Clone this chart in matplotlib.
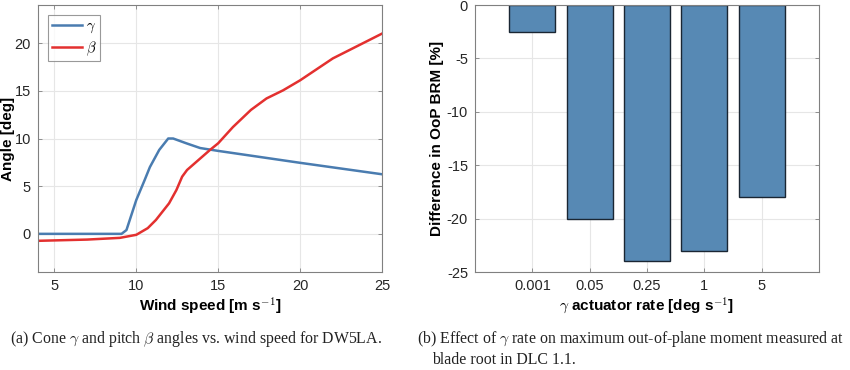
import matplotlib.pyplot as plt
import numpy as np

# cone angle gamma vs wind speed
gamma_ws = [4, 9.1, 9.4, 10.0, 10.5, 10.83, 11.4, 11.95, 12.25, 13.05, 13.9, 15, 17, 20, 22.5, 25]
gamma_deg = [0, 0, 0.4, 3.55, 5.6, 7.0, 8.8, 10.0, 10.0, 9.5, 9.0, 8.7, 8.2, 7.45, 6.85, 6.25]

# pitch angle beta vs wind speed
beta_ws = [4, 7, 9, 10, 10.7, 11.2, 12, 12.45, 12.8, 13.1, 13.5, 14.5, 15, 15.9, 17, 17.95, 18.96, 20, 22, 25]
beta_deg = [-0.73, -0.6, -0.42, -0.1, 0.6, 1.46, 3.2, 4.6, 6.0, 6.7, 7.3, 8.8, 9.5, 11.2, 13.0, 14.2, 15.05, 16.1, 18.4, 21.0]

# bar chart: effect of gamma actuator rate
rates = ["0.001", "0.05", "0.25", "1", "5"]
diff_brm = [-2.5, -20, -24, -23, -18]

blue = "#4a7cb0"
red = "#e3302f"
bar_col = "#5789b4"

plt.rcParams["font.family"] = ["Liberation Sans", "DejaVu Sans"]
plt.rcParams["mathtext.fontset"] = "cm"
plt.rcParams["axes.unicode_minus"] = False

fig = plt.figure(figsize=(8.5, 3.7), dpi=100)
ax1 = fig.add_axes([38 / 850, 1 - 272 / 370, 344 / 850, 267 / 370])
ax2 = fig.add_axes([475 / 850, 1 - 272 / 370, 344 / 850, 267 / 370])

for ax in (ax1, ax2):
    ax.grid(True, color="#e6e6e6", linewidth=0.8)
    ax.set_axisbelow(True)
    for s in ax.spines.values():
        s.set_color("#808080")
        s.set_linewidth(0.8)
    ax.tick_params(direction="in", top=True, right=True, length=3, width=0.6,
                   color="#808080", labelsize=10.5, labelcolor="#262626", pad=5)

ax1.plot(gamma_ws, gamma_deg, color=blue, lw=1.8, label=r"$\gamma$")
ax1.plot(beta_ws, beta_deg, color=red, lw=1.8, label=r"$\beta$")
ax1.set_xlim(4, 25)
ax1.set_ylim(-4, 24)
ax1.set_xticks([5, 10, 15, 20, 25])
ax1.set_yticks([0, 5, 10, 15, 20])
ax1.set_xlabel(r"Wind speed [m s$^{\mathbf{-1}}$]", fontsize=11, fontweight="bold", labelpad=2)
ax1.set_ylabel("Angle [deg]", fontsize=11, fontweight="bold", labelpad=0)
leg = ax1.legend(loc="upper left", fontsize=10.5, frameon=True, fancybox=False,
                 handlelength=2.1, handletextpad=0.25, borderpad=0.25, labelspacing=0.3,
                 borderaxespad=0, bbox_to_anchor=(10 / 344, 1 - 10 / 267))
leg.get_frame().set_edgecolor("#808080")
leg.get_frame().set_linewidth(0.8)

pos = np.arange(1, len(rates) + 1)
ax2.bar(pos, diff_brm, width=0.8, color=bar_col, edgecolor="#1a2633", linewidth=1.0)
ax2.set_xlim(0, 6)
ax2.set_ylim(-25, 0)
ax2.set_xticks(pos)
ax2.set_xticklabels(rates)
ax2.set_yticks([0, -5, -10, -15, -20, -25])
ax2.set_xlabel(r"$\gamma$ actuator rate [deg s$^{\mathbf{-1}}$]", fontsize=11, fontweight="bold", labelpad=2)
ax2.set_ylabel("Difference in OoP BRM [%]", fontsize=11, fontweight="bold", labelpad=2)

cap = dict(fontsize=11.4, family=["Liberation Serif", "DejaVu Serif"], color="#222222")
fig.text(196 / 850, 1 - 339 / 370, r"(a) Cone $\gamma$ and pitch $\beta$ angles vs. wind speed for DW5LA.",
         ha="center", va="center", **cap)
fig.text(417 / 850, 1 - 339 / 370, r"(b) Effect of $\gamma$ rate on maximum out-of-plane moment measured at",
         ha="left", va="center", **cap)
fig.text(432 / 850, 1 - 360 / 370, "blade root in DLC 1.1.", ha="left", va="center", **cap)

fig.savefig("out.png", dpi=100)
